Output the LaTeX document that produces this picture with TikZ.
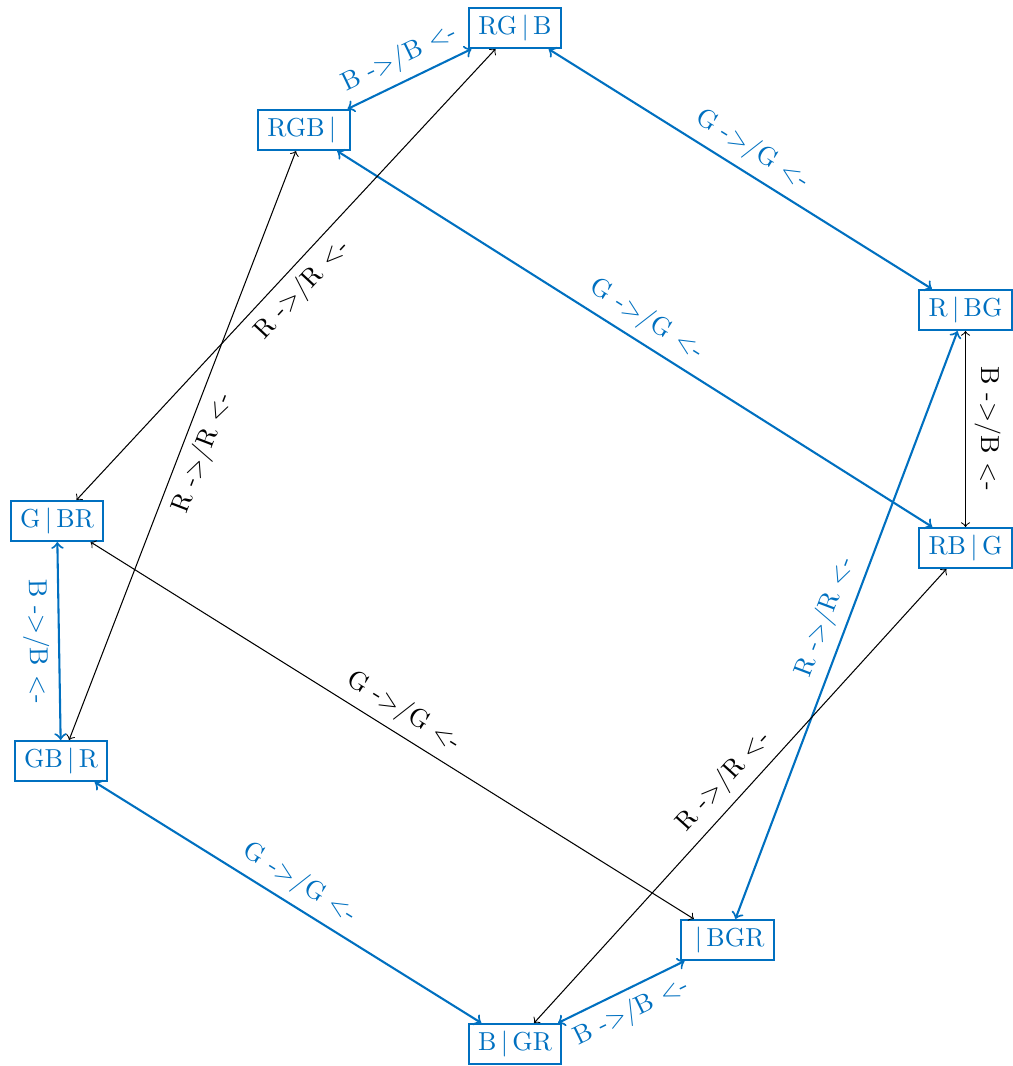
\documentclass[tikz,border=0pt]{standalone}
\usepackage{fontspec}
\definecolor{boatblue}{RGB}{0,112,192}
\newcommand{\shore}[2]{#1\,|\,#2}
\tikzset{
  state/.style={draw=boatblue, line width=0.8pt, text=boatblue,
    inner xsep=3.6pt, inner ysep=2pt, minimum height=15.4pt},
  move/.style={<->, boatblue, line width=0.8pt},
  jump/.style={<->, black, thin}
}
\begin{document}
\begin{tikzpicture}[x=1.353cm,y=-1.353cm]
    \useasboundingbox (0,0) rectangle (10.13,10.66);

    % 1) The eight states
    \node[state] (RGxB) at (5.15,0.28)  {\shore{RG}{B}};
    \node[state] (RGB)  at (3.04,1.30)  {\shore{RGB}{}};
    \node[state] (RxBG) at (9.655,3.10) {\shore{R}{BG}};
    \node[state] (RBxG) at (9.655,5.48) {\shore{RB}{G}};
    \node[state] (GxBR) at (0.57,5.21)  {\shore{G}{BR}};
    \node[state] (GBxR) at (0.61,7.61)  {\shore{GB}{R}};
    \node[state] (xBGR) at (7.275,9.40) {\shore{}{BGR}};
    \node[state] (BxGR) at (5.15,10.44) {\shore{B}{GR}};

    % 2) Blue moves around the outside
    \draw[move] (RGB) -- (RGxB) node[midway,sloped,above] {B ->/B <-};
    \draw[move] (RGxB) -- (RxBG) node[midway,sloped,above] {G ->/G <-};
    \draw[move] (RGB) -- (RBxG) node[midway,sloped,above] {G ->/G <-};
    \draw[move] (GxBR) -- (GBxR) node[midway,sloped,below] {B ->/B <-};
    \draw[move] (GBxR) -- (BxGR) node[midway,sloped,above] {G ->/G <-};
    \draw[move] (BxGR) -- (xBGR) node[midway,sloped,below] {B ->/B <-};
    \draw[move] (xBGR) -- (RxBG) node[midway,sloped,above] {R ->/R <-};

    % 3) Thin black moves
    \draw[jump] (GxBR) -- (RGxB) node[midway,sloped,below] {R ->/R <-};
    \draw[jump] (GBxR) -- (RGB) node[midway,sloped,below] {R ->/R <-};
    \draw[jump] (RxBG) -- (RBxG) node[midway,sloped,above] {B ->/B <-};
    \draw[jump] (GxBR) -- (xBGR) node[midway,sloped,above] {G ->/G <-};
    \draw[jump] (BxGR) -- (RBxG) node[midway,sloped,above] {R ->/R <-};
\end{tikzpicture}
\end{document}
